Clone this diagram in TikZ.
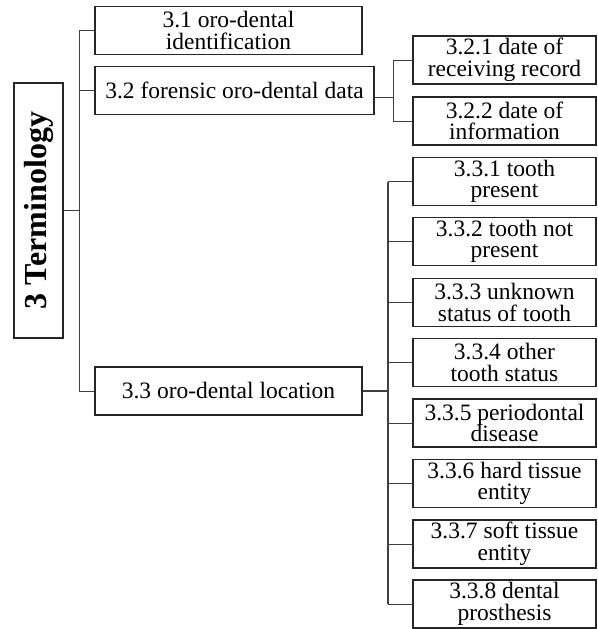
\documentclass[tikz,border=0pt]{standalone}
\usepackage{fontspec}
\setmainfont{Liberation Serif}
\usetikzlibrary{calc}
\begin{document}
\begin{tikzpicture}[x=1pt,y=-1pt,
  box/.style={draw=black!85,line width=1.4pt,rectangle,inner sep=0pt,align=center,
    font=\fontsize{23.5}{21.5}\selectfont},
  sub/.style={box,minimum width=183pt,minimum height=48pt},
  conn/.style={draw=black!75,line width=0.9pt}]
\useasboundingbox (0,0) rectangle (597,629);
% main boxes
\node[box,minimum width=49pt,minimum height=255pt] (t) at (38.5,210.5)
  {\rotatebox{90}{\fontsize{32}{32}\selectfont\bfseries 3 Terminology}};
\node[box,minimum width=267pt,minimum height=48pt] (b31) at (228.5,30.5) {3.1 oro-dental\\identification};
\node[box,minimum width=279pt,minimum height=48pt] (b32) at (234.5,90.5) {3.2 forensic oro-dental data};
\node[box,minimum width=267pt,minimum height=48pt] (b33) at (228.5,391) {3.3 oro-dental location};
% sub boxes of 3.2
\node[sub] (b321) at (504.5,60) {3.2.1 date of\\receiving record};
\node[sub] (b322) at (504.5,121) {3.2.2 date of\\information};
% sub boxes of 3.3
\node[sub] (b331) at (504.5,181.5) {3.3.1 tooth\\present};
\node[sub] (b332) at (504.5,241.5) {3.3.2 tooth not\\present};
\node[sub] (b333) at (504.5,302.5) {3.3.3 unknown\\status of tooth};
\node[sub] (b334) at (504.5,362.5) {3.3.4 other\\tooth status};
\node[sub] (b335) at (504.5,423) {3.3.5 periodontal\\disease};
\node[sub] (b336) at (504.5,483.5) {3.3.6 hard tissue\\entity};
\node[sub] (b337) at (504.5,544) {3.3.7 soft tissue\\entity};
\node[sub] (b338) at (504.5,604) {3.3.8 dental\\prosthesis};
% trunk
\coordinate (tr) at (79,0);
\draw[conn] (t.east) -- (t.east -| tr);
\draw[conn] (b31.west -| tr) -- (b33.west -| tr);
\foreach \b in {b31,b32,b33} \draw[conn] (\b.west -| tr) -- (\b.west);
% 3.2 branch
\coordinate (s2) at (393,0);
\coordinate (o2) at ($(b32.east)+(0,7)$);
\draw[conn,line width=1.2pt] (b32.east |- o2) -- (o2 -| s2);
\draw[conn] (b321.west -| s2) -- (b322.west -| s2);
\foreach \b in {b321,b322} \draw[conn] (\b.west -| s2) -- (\b.west);
% 3.3 branch
\coordinate (s3) at (388,0);
\draw[conn,line width=1.2pt] (b33.east) -- (b33.east -| s3);
\draw[conn,line width=1.2pt] (b331.west -| s3) -- (b338.west -| s3);
\foreach \b in {b331,b332,b333,b334,b335,b336,b337,b338} \draw[conn] (\b.west -| s3) -- (\b.west);
\end{tikzpicture}
\end{document}
